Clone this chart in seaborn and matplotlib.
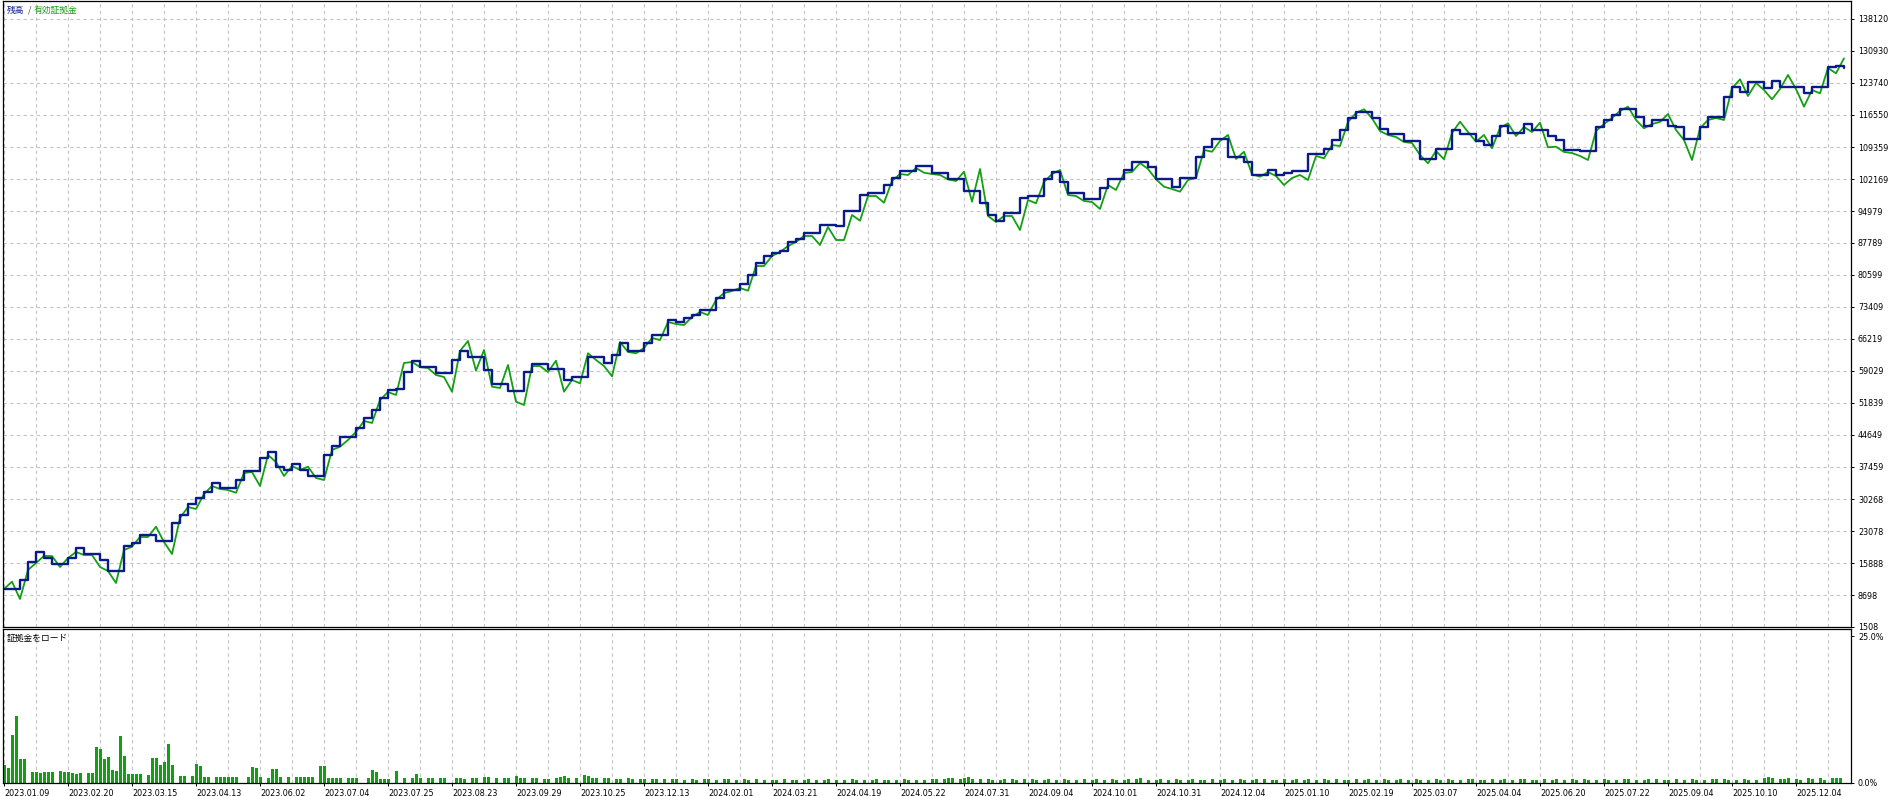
import numpy as np
import pandas as pd
import matplotlib
matplotlib.use('Agg')
import matplotlib.pyplot as plt
import seaborn as sns

W, H = 1889, 796
NAVY = '#0A1A8A'
GREEN = '#12A012'
GRID = '#c4c4c4'

# balance and equity, one sample every 2 deals
balance = [
    10050, 10050, 12070, 16180, 18430, 17010, 15660, 15660, 17010, 19260,
    17910, 17910, 16560, 14160, 14160, 19710, 20380, 22180, 22180, 20900,
    20900, 24880, 26670, 29150, 30490, 31910, 33860, 32740, 32740, 34540,
    36560, 36560, 39550, 40830, 37530, 36790, 38130, 36790, 35440, 35440,
    40150, 42180, 44200, 44200, 46220, 48540, 50270, 52960, 54760, 54920,
    58870, 61340, 59930, 59930, 58650, 58650, 61500, 63590, 62110, 62110,
    59250, 56110, 56110, 54540, 54540, 58870, 60600, 60600, 59410, 59410,
    57010, 57750, 57750, 62240, 62240, 60760, 62620, 65250, 63590, 63590,
    65250, 67120, 67120, 70490, 70110, 70940, 71610, 72740, 72740, 75500,
    77230, 77230, 78510, 80600, 83230, 84940, 85540, 86060, 88010, 88620,
    89970, 89970, 91830, 91830, 91610, 95050, 95050, 98570, 98960, 98960,
    100820, 102460, 103970, 103970, 105090, 105090, 103590, 103590, 102100, 102100,
    99470, 99470, 96710, 94080, 92730, 94460, 94460, 97830, 98350, 98350,
    102100, 103810, 101560, 99090, 99090, 97610, 97610, 100080, 102100, 102100,
    104190, 106060, 106060, 104930, 102100, 102100, 100440, 102460, 102460, 107180,
    109290, 111160, 111160, 107050, 107050, 106060, 103070, 103070, 104190, 103070,
    103520, 103970, 103970, 107720, 107720, 108910, 110930, 113180, 115810, 117290,
    117290, 115810, 113400, 112210, 112210, 110710, 110710, 106600, 106600, 108910,
    108910, 113180, 112210, 112210, 110710, 109810, 111900, 114150, 112570, 112570,
    114460, 113180, 113180, 111900, 110930, 108690, 108690, 108460, 108460, 113920,
    115430, 116550, 117900, 117900, 116170, 114080, 115430, 115430, 114080, 113790,
    111090, 111090, 113790, 116170, 116170, 120660, 122910, 121780, 124030, 124030,
    122550, 124190, 122770, 122770, 122770, 121420, 122770, 122770, 127270, 127450,
    127110,
]

equity = [
    10050, 11690, 7800, 14320, 15890, 17460, 17460, 14990, 17010, 18360,
    17690, 17690, 14990, 14090, 11400, 18810, 19550, 21730, 21730, 24050,
    20610, 17910, 26000, 28470, 28020, 31390, 33190, 32520, 32290, 31680,
    36110, 36340, 33190, 40150, 38580, 35440, 37680, 36790, 37530, 34990,
    34540, 41280, 42020, 43530, 45320, 47800, 47350, 52510, 54310, 53640,
    60830, 61050, 59930, 59700, 58130, 57680, 54380, 63520, 65770, 59100,
    63750, 55500, 55210, 60380, 52130, 51390, 60150, 60150, 58800, 61340,
    54380, 57010, 56260, 63010, 61500, 60150, 57840, 65540, 63300, 63010,
    64200, 66440, 65990, 70040, 69590, 69360, 71160, 72290, 71610, 74980,
    76550, 77000, 77680, 77070, 82620, 82620, 84870, 85770, 87110, 88010,
    89360, 89360, 87340, 91380, 88460, 88460, 94080, 92800, 98350, 98350,
    96840, 101720, 103290, 103070, 104640, 103590, 103290, 103070, 102100, 101720,
    103810, 97070, 104420, 93860, 92510, 93860, 93860, 90710, 97450, 96710,
    101500, 103290, 104190, 98570, 98350, 97230, 97000, 95430, 100820, 99700,
    103520, 103740, 105760, 104420, 102100, 100440, 99920, 99320, 101950, 102390,
    108690, 108300, 110710, 112060, 106660, 108300, 103230, 102690, 103740, 102840,
    100820, 102390, 103070, 101950, 107340, 106820, 109810, 109580, 114980, 117000,
    117830, 115810, 112950, 112060, 111610, 110480, 110260, 107560, 105700, 108460,
    106600, 112500, 115050, 112730, 110550, 112060, 109070, 113630, 114680, 111830,
    113850, 112730, 114820, 109290, 109430, 108240, 108010, 107340, 106440, 112950,
    114530, 115880, 117450, 118420, 115430, 113560, 114530, 114980, 116770, 113180,
    110930, 106440, 113560, 115430, 115880, 115430, 122550, 124570, 120820, 123740,
    122170, 120080, 122390, 125540, 122390, 118420, 122170, 121420, 127110, 125920,
    129290,
]

# margin load in %, one bar per deal
load = [
    3.1, 2.6, 8.2, 11.4, 4.1, 4.1, 0, 1.8, 1.8, 1.7,
    1.8, 1.8, 1.8, 0, 2.0, 1.8, 1.9, 1.7, 1.6, 1.7,
    0, 1.7, 1.7, 6.2, 5.7, 4.1, 4.5, 2.2, 2.1, 8.0,
    4.6, 1.5, 1.5, 1.5, 1.5, 0, 1.4, 4.3, 4.2, 3.1,
    3.6, 6.6, 3.1, 0, 1.2, 1.2, 0, 1.2, 3.2, 2.9,
    1.1, 1.1, 0, 1.1, 1.1, 1.1, 1.1, 1.1, 1.1, 0,
    0, 1.1, 2.8, 2.5, 1.1, 0, 0.9, 2.4, 2.4, 1.1,
    0, 1.0, 0, 1.0, 1.0, 1.1, 1.1, 1.1, 0, 2.9,
    2.9, 0.9, 0.9, 0.8, 0.8, 0, 0.8, 0.8, 0.8, 0,
    0, 0.8, 2.2, 1.9, 0.6, 0.6, 0.6, 0, 2.0, 0,
    0.8, 0, 0.8, 1.6, 0.8, 0, 0.8, 0.8, 0, 0.8,
    0.8, 0, 0, 0.8, 0.8, 0.6, 0, 0.8, 0.8, 0,
    1.0, 1.0, 0, 0.8, 0, 0.8, 0.8, 0, 1.2, 0.8,
    0.8, 0, 0.8, 0.8, 0, 0.6, 0.6, 0, 0.8, 1.0,
    1.2, 0.8, 0, 0.8, 0, 1.4, 1.2, 0.8, 0.8, 0,
    0.8, 0.8, 0, 0.6, 0.6, 0, 0.8, 0.6, 0, 0.6,
    0.6, 0, 0.6, 0.6, 0, 0.6, 0, 0.6, 0.6, 0,
    0.5, 0, 0.6, 0.5, 0, 0.6, 0.6, 0, 0.5, 0,
    0.6, 0.6, 0, 0.5, 0, 0.6, 0.5, 0, 0.6, 0,
    0.5, 0, 0.5, 0.5, 0, 0.6, 0, 0.5, 0.5, 0,
    0.5, 0.6, 0, 0.5, 0, 0.5, 0.6, 0, 0.5, 0,
    0.5, 0, 0.6, 0.5, 0, 0.5, 0, 0.5, 0.6, 0,
    0.5, 0.5, 0, 0.5, 0, 0.6, 0.5, 0, 0.5, 0,
    0.5, 0, 0.6, 0.6, 0, 0.7, 0.9, 0.8, 0, 0.6,
    0.8, 1.0, 0.7, 0, 0.6, 0, 0.6, 0.5, 0, 0.5,
    0.6, 0, 0.6, 0.5, 0, 0.6, 0, 0.6, 0.5, 0,
    0.5, 0.6, 0, 0.5, 0, 0.6, 0.5, 0, 0.5, 0,
    0.6, 0, 0.5, 0.6, 0, 0.5, 0, 0.6, 0.5, 0,
    0.5, 0.6, 0, 0.6, 0.8, 0, 0.5, 0, 0.5, 0.6,
    0, 0.5, 0, 0.6, 0.5, 0, 0.5, 0.6, 0, 0.5,
    0.5, 0, 0.6, 0, 0.5, 0.6, 0, 0.5, 0, 0.6,
    0.5, 0, 0.5, 0.6, 0, 0.6, 0, 0.5, 0.5, 0,
    0.6, 0, 0.5, 0.6, 0, 0.5, 0.6, 0, 0.5, 0,
    0.6, 0.5, 0, 0.6, 0, 0.5, 0.5, 0, 0.6, 0,
    0.5, 0.6, 0, 0.5, 0, 0.6, 0.5, 0, 0.5, 0.6,
    0, 0.5, 0, 0.6, 0.5, 0, 0.5, 0, 0.6, 0.5,
    0, 0.6, 0.5, 0, 0.5, 0, 0.6, 0.6, 0, 0.5,
    0.5, 0, 0.6, 0, 0.5, 0.6, 0, 0.5, 0, 0.6,
    0.6, 0, 0.5, 0.5, 0, 0.6, 0, 0.5, 0.6, 0,
    0.5, 0, 0.6, 0.5, 0, 0.6, 0.5, 0, 0.5, 0,
    0.6, 0.5, 0, 0.5, 0, 0.6, 0.6, 0, 0.5, 0,
    0.5, 0.6, 0, 0.6, 0, 0.5, 0.5, 0, 0.6, 0,
    0.5, 0, 0.6, 0.5, 0, 0.5, 0, 0.6, 0.6, 0,
    0.6, 0.5, 0, 0.5, 0, 0.6, 0.5, 0, 0.5, 0,
    0.8, 1.0, 0.9, 0, 0.6, 0.6, 0.9, 0, 0.6, 0.5,
    0, 0.9, 0.6, 0, 0.9, 0.5, 0, 0.8, 0.9, 0.9,
    0,
]

y_ticks = [1508, 8698, 15888, 23078, 30268, 37459, 44649, 51839, 59029, 66219,
           73409, 80599, 87789, 94979, 102169, 109359, 116550, 123740, 130930, 138120]

date_labels = ['2023.01.09', '2023.02.20', '2023.03.15', '2023.04.13', '2023.06.02',
               '2023.07.04', '2023.07.25', '2023.08.23', '2023.09.29', '2023.10.25',
               '2023.12.13', '2024.02.01', '2024.03.21', '2024.04.19', '2024.05.22',
               '2024.07.31', '2024.09.04', '2024.10.01', '2024.10.31', '2024.12.04',
               '2025.01.10', '2025.02.19', '2025.03.07', '2025.04.04', '2025.06.20',
               '2025.07.22', '2025.09.04', '2025.10.10', '2025.12.04']

sns.set_style('white')
plt.rcParams['font.family'] = ['DejaVu Sans', 'Noto Sans CJK JP']


def px_box(x0, y0, x1, y1):
    return [x0 / W, 1 - y1 / H, (x1 - x0) / W, (y1 - y0) / H]


fig = plt.figure(figsize=(W / 100, H / 100), dpi=100)
ax = fig.add_axes(px_box(3, 1, 1851, 627))
ax2 = fig.add_axes(px_box(3, 629, 1851, 783))

df = pd.DataFrame({'deal': np.arange(len(balance)) * 2, 'balance': balance, 'equity': equity})
sns.lineplot(data=df, x='deal', y='equity', color=GREEN, lw=1.3, sort=False, estimator=None, ax=ax)
sns.lineplot(data=df, x='deal', y='balance', color=NAVY, lw=1.7, sort=False, estimator=None,
             drawstyle='steps-post', ax=ax)

bars = pd.DataFrame({'deal': np.arange(len(load)), 'load': load})
sns.barplot(data=bars, x='deal', y='load', native_scale=True, color=GREEN, saturation=1,
            width=0.75, errorbar=None, linewidth=0, ax=ax2)

xmin, xmax = -0.25, 461.75
major = np.arange(0, 16 * len(date_labels), 16)
minor = np.arange(8, 462, 16)

for a in (ax, ax2):
    a.set_xlim(xmin, xmax)
    a.set_xticks(major)
    a.set_xticks(minor, minor=True)
    a.grid(True, which='both', axis='x', color=GRID, ls=(0, (3, 3)), lw=0.8)
    a.set_xlabel('')
    a.set_ylabel('')
    for s in a.spines.values():
        s.set_color('black')
        s.set_linewidth(0.9)
    a.yaxis.tick_right()
    a.tick_params(axis='y', which='both', right=True, left=False, length=2.5, width=0.7,
                  pad=2.5, labelsize=5.8, colors='black')
    a.tick_params(axis='x', which='minor', bottom=False)

ax.set_ylim(1508, 142164)
ax.set_yticks(y_ticks)
ax.set_yticklabels([str(v) for v in y_ticks])
ax.grid(True, axis='y', color=GRID, ls=(0, (3, 3)), lw=0.8)
ax.tick_params(axis='x', which='both', bottom=False, labelbottom=False)

ax2.set_ylim(0, 26.2)
ax2.set_yticks([0, 25])
ax2.set_yticklabels(['0.0%', '25.0%'])
ax2.set_xticklabels(date_labels)
ax2.tick_params(axis='x', which='major', bottom=True, length=2.5, width=0.7, pad=2,
                labelsize=5.8, colors='black')
for lbl in ax2.get_xticklabels():
    lbl.set_horizontalalignment('left')

cjk = ['Noto Sans CJK JP', 'DejaVu Sans']
fig.text(7 / W, 1 - 10.5 / H, '残高', color=NAVY, fontsize=6.3, family=cjk, va='center')
fig.text(28 / W, 1 - 10.5 / H, '/', color='#404040', fontsize=6.3, family=cjk, va='center')
fig.text(34 / W, 1 - 10.5 / H, '有効証拠金', color=GREEN, fontsize=6.3, family=cjk, va='center')
fig.text(7 / W, 1 - 638 / H, '証拠金をロード', color='black', fontsize=6.3, family=cjk, va='center')

fig.savefig('out.png', dpi=100)
